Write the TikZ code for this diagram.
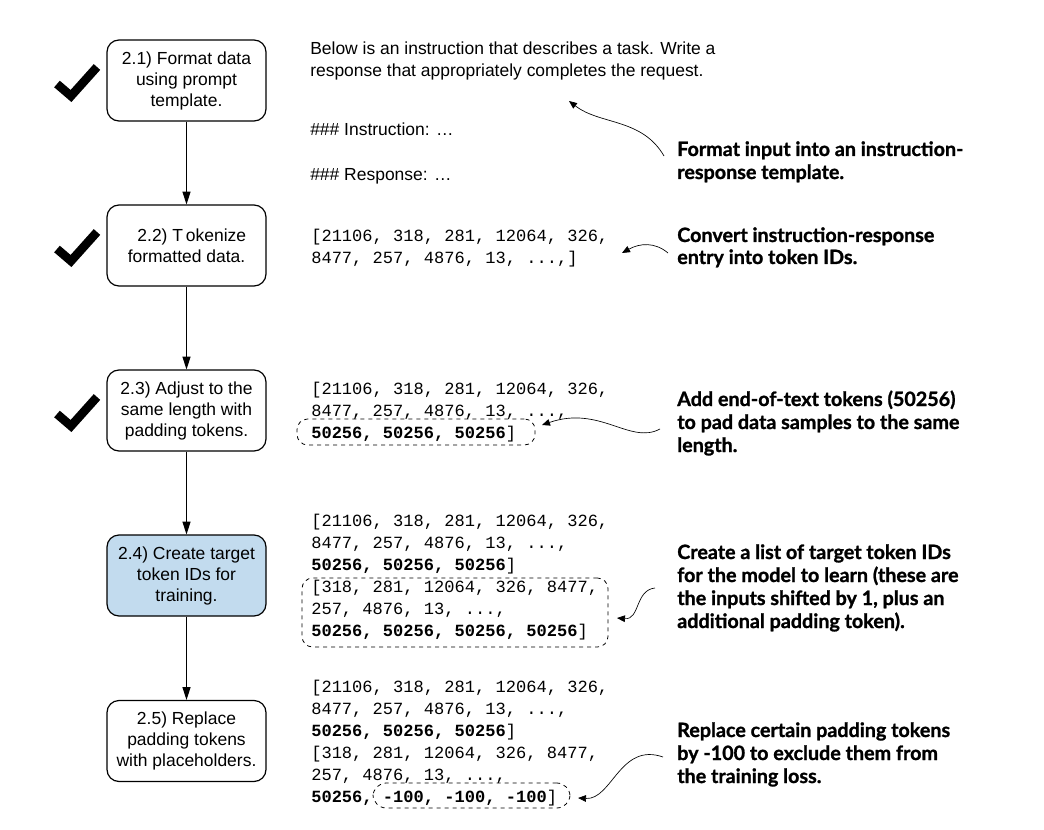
\documentclass[tikz,border=0pt]{standalone}
\usepackage{fontspec}
\setmainfont{Liberation Sans}
\newfontfamily\tokfont{Liberation Mono}
\newfontfamily\notefont{Lato}[BoldFeatures={FakeBold=1.2}]
\usetikzlibrary{arrows.meta}
\definecolor{stepblue}{HTML}{C2DBEE}
\begin{document}
\begin{tikzpicture}[x=0.75pt,y=-0.75pt,
  stepbox/.style={draw, line width=0.9pt, rounded corners=9pt,
    minimum width=119.25pt, minimum height=60.75pt, align=center,
    inner sep=0pt, font=\fontsize{13.1}{15.75}\selectfont},
  flow/.style={-{Triangle[length=9.5pt,width=6pt]}, line width=0.8pt},
  pointer/.style={-{Triangle[length=6pt,width=5pt]}, line width=0.5pt},
  tok/.style={anchor=base west, inner sep=0pt, font=\tokfont\fontsize{12.8}{16}\selectfont},
  tmpl/.style={anchor=base west, inner sep=0pt, font=\fontsize{13.1}{16}\selectfont},
  note/.style={anchor=base west, inner sep=0pt, font=\notefont\bfseries\fontsize{14.8}{17}\selectfont},
  dashbox/.style={draw, dashed, line width=0.6pt, rounded corners=8pt, inner sep=0pt},
  tick/.style={line width=6.5pt, line join=miter, line cap=butt}]
\useasboundingbox (0,0) rectangle (1044,830);

% pipeline steps
\node[stepbox] (b1) at (186.5,80.5) {2.1) Format data\\using prompt\\template.};
\node[stepbox] (b2) at (186.5,245.5) {\hspace{8pt}2.2) T\,okenize\\formatted data.};
\node[stepbox] (b3) at (186.5,410.5) {2.3) Adjust to the\\same length with\\padding tokens.};
\node[stepbox, fill=stepblue] (b4) at (186.5,575.5) {2.4) Create target\\token IDs for\\training.};
\node[stepbox] (b5) at (186.5,741) {2.5) Replace\\padding tokens\\with placeholders.};

\draw[flow] (b1) -- (b2);
\draw[flow] (b2) -- (b3);
\draw[flow] (b3) -- (b4);
\draw[flow] (b4) -- (b5);

% completed marks
\draw[tick] (57,84) -- (71,96) -- (97,67);
\draw[tick] (57,249) -- (71,261) -- (97,232);
\draw[tick] (57,414) -- (71,426) -- (97,397);

% prompt template
\node[tmpl] (p1) at (310,55) {Below is an instruction that describes a task. Write a};
\node[tmpl] (p2) at (310,77) {response that appropriately completes the request.};
\node[tmpl] (p3) at (310,136) {\#\#\# Instruction: …};
\node[tmpl] (p4) at (310,181) {\#\#\# Response: …};

% token ids
\node[tok] (k21) at (311,242) {[21106, 318, 281, 12064, 326,};
\node[tok] (k22) at (311,264) {8477, 257, 4876, 13, ...,]};

\node[tok] (k31) at (311,394) {[21106, 318, 281, 12064, 326,};
\node[tok] (k32) at (311,416) {8477, 257, 4876, 13, ...,};
\node[tok] (k33) at (311,438) {\bfseries 50256, 50256, 50256\mdseries]};

\node[tok] (k41) at (311,526) {[21106, 318, 281, 12064, 326,};
\node[tok] (k42) at (311,548) {8477, 257, 4876, 13, ...,};
\node[tok] (k43) at (311,570) {\bfseries 50256, 50256, 50256\mdseries]};
\node[tok] (k44) at (311,592) {[318, 281, 12064, 326, 8477,};
\node[tok] (k45) at (311,614) {257, 4876, 13, ...,};
\node[tok] (k46) at (311,636) {\bfseries 50256, 50256, 50256, 50256\mdseries]};

\node[tok] (k51) at (311,692) {[21106, 318, 281, 12064, 326,};
\node[tok] (k52) at (311,714) {8477, 257, 4876, 13, ...,};
\node[tok] (k53) at (311,736) {\bfseries 50256, 50256, 50256\mdseries]};
\node[tok] (k54) at (311,758) {[318, 281, 12064, 326, 8477,};
\node[tok] (k55) at (311,780) {257, 4876, 13, ...,};
\node[tok] (k56) at (311,802) {\bfseries 50256, -100, -100, -100\mdseries]};

% highlighted groups
\node[dashbox, minimum width=178.5pt, minimum height=19.5pt] (d3) at (416,432) {};
\node[dashbox, minimum width=229.5pt, minimum height=51.75pt] (d4) at (455,612.5) {};
\node[dashbox, rounded corners=10pt, minimum width=147.75pt, minimum height=18.75pt] (d5) at (471.5,795.5) {};

% explanations
\node[note] (n11) at (677,156) {Format input into an instruction-};
\node[note] (n12) at (677,179) {response template.};
\node[note] (n21) at (677,242) {Convert instruction-response};
\node[note] (n22) at (677,264) {entry into token IDs.};
\node[note] (n31) at (677,406) {Add end-of-text tokens (50256)};
\node[note] (n32) at (677,429) {to pad data samples to the same};
\node[note] (n33) at (677,452) {length.};
\node[note] (n41) at (677,559) {Create a list of target token IDs};
\node[note] (n42) at (677,582) {for the model to learn (these are};
\node[note] (n43) at (677,605) {the inputs shifted by 1, plus an};
\node[note] (n44) at (677,628) {additional padding token).};
\node[note] (n51) at (677,737) {Replace certain padding tokens};
\node[note] (n52) at (677,760) {by -100 to exclude them from};
\node[note] (n53) at (677,783) {the training loss.};

% pointer curves
\coordinate (s1) at (664,156);
\coordinate (t1) at (569,101);
\coordinate (s2) at (668,253);
\coordinate (t2) at (622,253);
\coordinate (s3) at (660,429);
\coordinate (t3) at (542,425);
\coordinate (s4) at (655,588);
\coordinate (t4) at (617,618);
\coordinate (s5) at (663,757);
\coordinate (t5) at (578,798);
\draw[pointer] (s1) .. controls (642,118) and (600,125) .. (t1);
\draw[pointer] (s2) .. controls (655,242) and (640,243) .. (t2);
\draw[pointer] (s3) .. controls (630,445) and (600,405) .. (t3);
\draw[pointer] (s4) .. controls (635,590) and (640,620) .. (t4);
\draw[pointer] (s5) .. controls (620,742) and (612,800) .. (t5);
\end{tikzpicture}
\end{document}
